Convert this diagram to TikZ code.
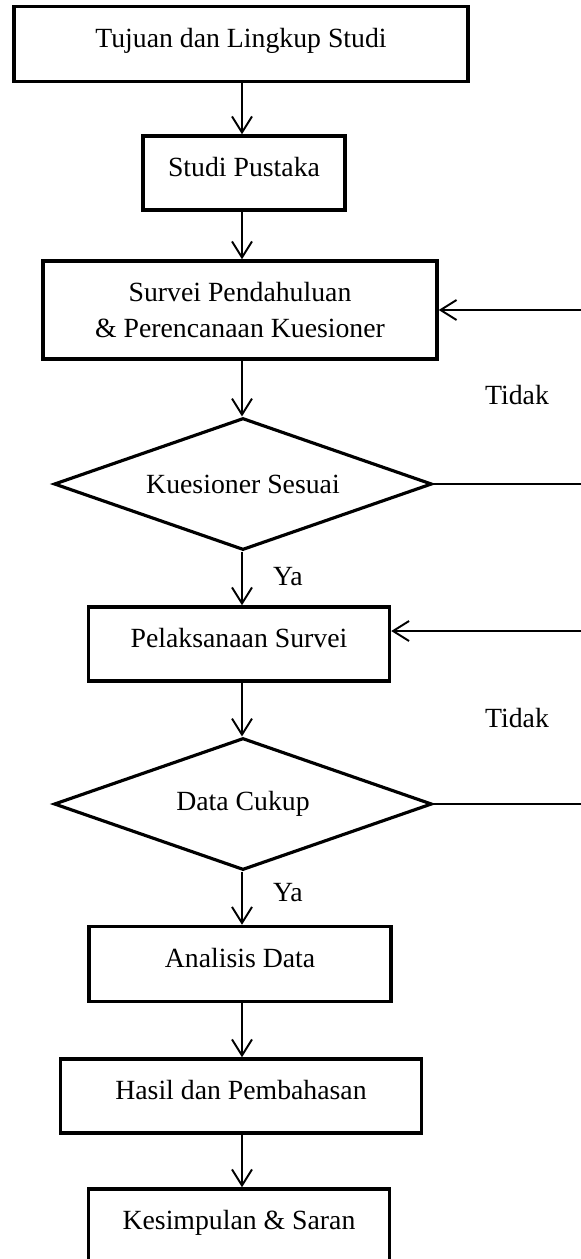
\documentclass[tikz,border=0pt]{standalone}
\usepackage{fontspec}
\setmainfont{Liberation Serif}
\usetikzlibrary{shapes.geometric,arrows.meta}

\begin{document}
\begin{tikzpicture}[
  x=0.02cm, y=-0.02cm,
  every node/.style={font=\fontsize{15.8}{19}\selectfont},
  proc/.style={draw, rectangle, line width=2pt, align=center, inner sep=0pt},
  oneline/.style={proc, text height=0.4cm, text depth=0.28cm},
  cond/.style={draw, diamond, aspect=2.86, line width=1.8pt, inner sep=0pt,
               minimum width=7.56cm, minimum height=2.64cm},
  flow/.style={line width=1.1pt, -{Straight Barb[length=0.32cm, width=0.4cm, line width=1.1pt]}},
  plain/.style={line width=1.1pt},
]

\useasboundingbox (0,0) rectangle (581,1259);

% ================================================================
% Main column
% ================================================================
\node[oneline, minimum width=9.08cm, minimum height=1.5cm]  (tujuan)   at (241,  44) {Tujuan dan Lingkup Studi};
\node[oneline, minimum width=4.04cm, minimum height=1.48cm] (pustaka)  at (244, 173) {Studi Pustaka};
\node[proc, minimum width=7.88cm, minimum height=1.96cm]    (survei)   at (240, 310) {Survei Pendahuluan\\[1pt]\& Perencanaan Kuesioner};
\node[cond]                                                 (kues)     at (243, 484) {Kuesioner Sesuai};
\node[oneline, minimum width=6.02cm, minimum height=1.48cm] (pelaks)   at (239, 644) {Pelaksanaan Survei};
\node[cond]                                                 (cukup)    at (243, 804) {Data Cukup};
\node[oneline, minimum width=6.04cm, minimum height=1.5cm]  (analisis) at (240, 964) {Analisis Data};
\node[oneline, minimum width=7.22cm, minimum height=1.48cm] (hasil)    at (241,1096) {Hasil dan Pembahasan};
\node[oneline, minimum width=6.02cm, minimum height=1.48cm] (simpulan) at (239,1226) {Kesimpulan \& Saran};

% --- Downward arrows ---
\draw[flow] (tujuan.south -| 242,0)  -- (pustaka.north -| 242,0);
\draw[flow] (pustaka.south -| 242,0) -- (survei.north -| 242,0);
\draw[flow] (survei.south -| 242,0)  -- (kues.north -| 242,0);
\draw[flow] (kues.south -| 242,0)    -- (pelaks.north -| 242,0);
\draw[flow] (pelaks.south -| 242,0)  -- (cukup.north -| 242,0);
\draw[flow] (cukup.south -| 242,0)   -- (analisis.north -| 242,0);
\draw[flow] (analisis.south -| 242,0) -- (hasil.north -| 242,0);
\draw[flow] (hasil.south -| 242,0)   -- (simpulan.north -| 242,0);

% --- Decision labels ---
\node (ya1) at (288, 577) {Ya};
\node (ya2) at (288, 893) {Ya};
\node (tidak1) at (517, 395) {Tidak};
\node (tidak2) at (517, 718) {Tidak};

% ================================================================
% Feedback loops (right edge runs off the page)
% ================================================================
\coordinate (back1) at (595, 484);
\coordinate (back2) at (595, 804);

\draw[plain] (kues.east) -- (back1);
\draw[flow]  (back1) |- (survei.east);

\draw[plain] (cukup.east) -- (back2);
\draw[flow]  (back2) |- ([yshift=0.26cm]pelaks.east);

\end{tikzpicture}
\end{document}
